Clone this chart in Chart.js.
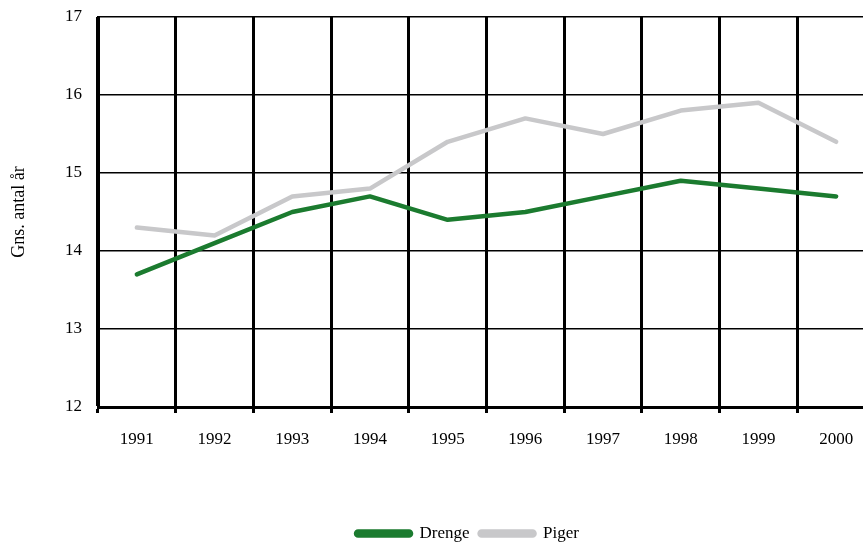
<!DOCTYPE html>
<html>
<head>
<meta charset="utf-8">
<script src="https://cdn.jsdelivr.net/npm/chart.js@4/dist/chart.umd.min.js"></script>
<style>
    html, body { margin: 0; padding: 0; background: #fff; overflow: hidden; }
    #wrap { width: 935px; height: 543px; }
</style>
</head>
<body>
<div id="wrap"><canvas id="ageChart" width="935" height="543"></canvas></div>
<script>
// Gennemsnitlig alder, drenge og piger 1991-2000
const years = ['1991', '1992', '1993', '1994', '1995', '1996', '1997', '1998', '1999', '2000'];
const drenge = [13.7, 14.1, 14.5, 14.7, 14.4, 14.5, 14.7, 14.9, 14.8, 14.7];
const piger = [14.3, 14.2, 14.7, 14.8, 15.4, 15.7, 15.5, 15.8, 15.9, 15.4];
const yTicks = [12, 13, 14, 15, 16, 17];

const serif = "'Liberation Serif', 'DejaVu Serif', serif";

// push the legend a bit further down, like the original
const legendShift = {
    id: 'legendShift',
    afterLayout(chart) {
        const lg = chart.legend;
        if (!lg) return;
        lg.top += 9;
        lg.bottom += 9;
    }
};

function noVertPadding(scale) {
    scale.paddingTop = 0;
    scale.paddingBottom = 0;
}

function initChart() {
    const ctx = document.getElementById('ageChart').getContext('2d');

    new Chart(ctx, {
        type: 'line',
        data: {
            labels: years,
            datasets: [
                {
                    label: 'Drenge',
                    data: drenge,
                    borderColor: '#1b7b2f',
                    backgroundColor: '#1b7b2f',
                    borderWidth: 4.5,
                    borderCapStyle: 'round',
                    borderJoinStyle: 'round',
                    pointRadius: 0,
                    tension: 0
                },
                {
                    label: 'Piger',
                    data: piger,
                    borderColor: '#c8c8ca',
                    backgroundColor: '#c8c8ca',
                    borderWidth: 4.5,
                    borderCapStyle: 'round',
                    borderJoinStyle: 'round',
                    pointRadius: 0,
                    tension: 0
                }
            ]
        },
        options: {
            responsive: false,
            animation: false,
            layout: { padding: { top: 17, left: 0, right: 0, bottom: 0 } },
            scales: {
                x: {
                    offset: true,
                    grid: {
                        offset: true,
                        color: '#000',
                        lineWidth: 3,
                        drawTicks: true,
                        tickLength: 6
                    },
                    border: { display: true, color: '#000', width: 3 },
                    ticks: {
                        color: '#000',
                        padding: 16,
                        maxRotation: 0,
                        font: { family: serif, size: 17 }
                    },
                    afterFit: function(scale) { scale.height = 99; }
                },
                y: {
                    min: 12,
                    max: 17,
                    afterBuildTicks: function(scale) {
                        scale.ticks = yTicks.map(v => ({ value: v }));
                    },
                    grid: {
                        color: '#000',
                        lineWidth: 1.5,
                        drawTicks: false,
                        tickLength: 0
                    },
                    border: { display: true, color: '#000', width: 3 },
                    ticks: {
                        color: '#000',
                        padding: 16,
                        font: { family: serif, size: 17 }
                    },
                    title: {
                        display: true,
                        text: 'Gns. antal år',
                        color: '#000',
                        padding: { top: 8, bottom: 0 },
                        font: { family: serif, size: 18 }
                    },
                    afterFit: function(scale) {
                        scale.width = 98;
                        noVertPadding(scale);
                    }
                },
                // spacer so the plot runs past the right edge like the original
                yRight: {
                    position: 'right',
                    display: true,
                    min: 12,
                    max: 17,
                    grid: { display: false, drawTicks: false },
                    border: { display: false },
                    ticks: { display: false },
                    afterFit: function(scale) {
                        scale.width = 60;
                        noVertPadding(scale);
                    }
                }
            },
            plugins: {
                legend: {
                    position: 'bottom',
                    labels: {
                        color: '#000',
                        boxWidth: 55,
                        boxHeight: 4,
                        useBorderRadius: true,
                        borderRadius: 2,
                        padding: 10,
                        font: { family: serif, size: 17 }
                    }
                },
                tooltip: { enabled: false }
            }
        },
        plugins: [legendShift]
    });
}

initChart();
</script>
</body>
</html>
